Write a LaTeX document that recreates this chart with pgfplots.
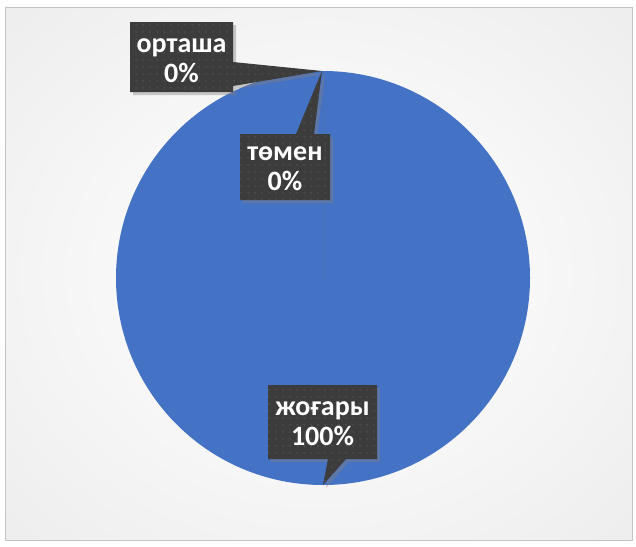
\documentclass[border=0pt]{standalone}
\usepackage{pgfplots}
\pgfplotsset{compat=1.18}
\usepackage{pgfplotstable}
\usepackage{fontspec}
\setmainfont{Carlito}
\usetikzlibrary{shadows,patterns.meta}

\definecolor{pieblue}{HTML}{4472C4}
\definecolor{boxgray}{HTML}{3C3C3C}
\definecolor{dotgray}{HTML}{585858}
\definecolor{frame}{HTML}{C4C4C4}

\pgfdeclareradialshading{chartbg}{\pgfpoint{0bp}{0bp}}{%
  color(0bp)=(white); color(12bp)=(white!98!black); color(50bp)=(black!10); color(71bp)=(black!20)}

\tikzdeclarepattern{
  name=boxdots,
  parameters={},
  bounding box={(0,0) and (3.5pt,3.5pt)},
  tile size={(3.5pt,3.5pt)},
  code={\fill (1.75pt,1.75pt) circle (0.45pt);}
}

\pgfplotstableread{
label value
high 100
mid 0
low 0
}\piedata

% slice angles, clockwise from 12 o'clock like Excel
\pgfplotstablegetelem{0}{value}\of\piedata \let\vA\pgfplotsretval
\pgfplotstablegetelem{1}{value}\of\piedata \let\vB\pgfplotsretval
\pgfplotstablegetelem{2}{value}\of\piedata \let\vC\pgfplotsretval
\pgfmathsetmacro\tot{\vA+\vB+\vC}
\pgfmathsetmacro\aA{90-360*(\vA/\tot)}
\pgfmathsetmacro\aB{\aA-360*(\vB/\tot)}
\pgfmathsetmacro\aC{\aB-360*(\vC/\tot)}

\begin{document}
\begin{tikzpicture}[
  callout/.style={fill=boxgray, drop shadow={opacity=0.4, shadow xshift=1.5pt, shadow yshift=-1.5pt}},
  lbl/.style={text=white, align=center, font=\bfseries\fontsize{14}{15}\selectfont},
]
% background in pixel units (0.5pt per px, y down)
\begin{scope}[x=0.5pt, y=-0.5pt, yshift=273pt]
\fill[white] (0,0) rectangle (636,546);
\shade[shading=chartbg] (5,8) rectangle (632,540);
\draw[frame, line width=0.5pt] (5,8) rectangle (632,540);
\end{scope}

\begin{axis}[
  at={(0,0)}, anchor=south west,
  scale only axis, width=318pt, height=273pt,
  xmin=0, xmax=636, ymin=0, ymax=546, y dir=reverse,
  hide axis, clip=false,
]
% pie slices
\fill[pieblue] (axis cs:323,278) -- ++(90:103.5pt) arc[start angle=90, end angle=\aA, radius=103.5pt] -- cycle;
\fill[pieblue!80!black] (axis cs:323,278) -- ++(\aA:103.5pt) arc[start angle=\aA, end angle=\aB, radius=103.5pt] -- cycle;
\fill[gray] (axis cs:323,278) -- ++(\aB:103.5pt) arc[start angle=\aB, end angle=\aC, radius=103.5pt] -- cycle;

% callouts
\path[callout] (axis cs:130,22) -- (axis cs:233,22) -- (axis cs:233,62) -- (axis cs:322,71)
  -- (axis cs:233,86) -- (axis cs:233,92) -- (axis cs:130,92) -- cycle;
\path[pattern={boxdots}, pattern color=dotgray] (axis cs:130,22) -- (axis cs:233,22) -- (axis cs:233,62) -- (axis cs:322,71)
  -- (axis cs:233,86) -- (axis cs:233,92) -- (axis cs:130,92) -- cycle;

\path[callout] (axis cs:240,134) -- (axis cs:296,134) -- (axis cs:322,71) -- (axis cs:314,134)
  -- (axis cs:330,134) -- (axis cs:330,200) -- (axis cs:240,200) -- cycle;
\path[pattern={boxdots}, pattern color=dotgray] (axis cs:240,134) -- (axis cs:296,134) -- (axis cs:322,71) -- (axis cs:314,134)
  -- (axis cs:330,134) -- (axis cs:330,200) -- (axis cs:240,200) -- cycle;

\path[callout] (axis cs:268,385) -- (axis cs:377,385) -- (axis cs:377,459) -- (axis cs:346,459)
  -- (axis cs:323,485) -- (axis cs:328,459) -- (axis cs:268,459) -- cycle;
\path[pattern={boxdots}, pattern color=dotgray] (axis cs:268,385) -- (axis cs:377,385) -- (axis cs:377,459) -- (axis cs:346,459)
  -- (axis cs:323,485) -- (axis cs:328,459) -- (axis cs:268,459) -- cycle;

\node[lbl] at (axis cs:181.5,61) {орташа\\0\%};
\node[lbl] at (axis cs:285,169) {төмен\\0\%};
\node[lbl] at (axis cs:322.5,424) {жоғары\\100\%};
\end{axis}
\pgfresetboundingbox
\path[use as bounding box] (0,0) rectangle (318pt,273pt);
\end{tikzpicture}
\end{document}
